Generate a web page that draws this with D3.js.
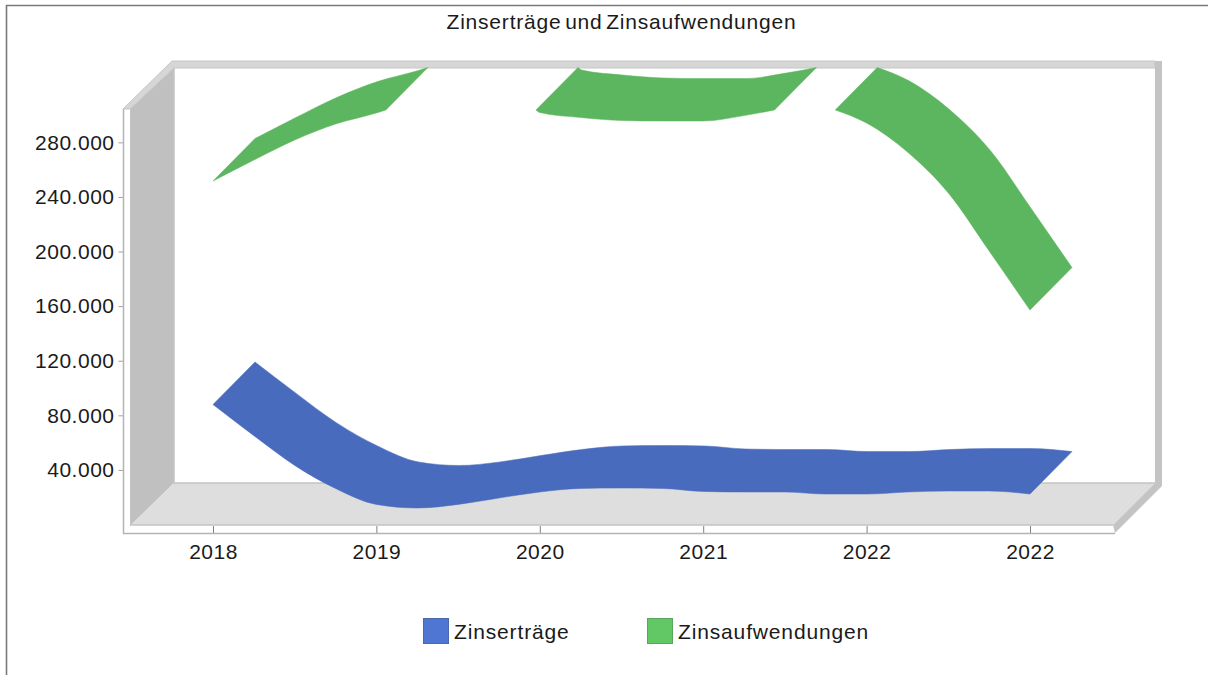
<!DOCTYPE html>
<html>
<head>
<meta charset="utf-8">
<script src="https://cdn.jsdelivr.net/npm/d3@7"></script>
<style>
    html, body { margin: 0; padding: 0; background: #fff; }
    svg { display: block; }
    text { font-family: "Liberation Sans", Arial, sans-serif; fill: #1a1a1a; }
</style>
</head>
<body>
<svg id="chart" width="1208" height="675"></svg>
<script>
const title = 'Zinserträge und Zinsaufwendungen';
const categories = ['2018', '2019', '2020', '2021', '2022', '2022'];
const yTicks = [40000, 80000, 120000, 160000, 200000, 240000, 280000];

// curve every quarter of a category step
const samplePositions = [
    0, 0.25, 0.5, 0.75, 1, 1.25, 1.5, 1.75, 2, 2.25, 2.5,
    2.75, 3, 3.25, 3.5, 3.75, 4, 4.25, 4.5, 4.75, 5
];
const zinsertraege = [
    87900, 65100, 43300, 26400, 14700, 12100, 14700, 19400, 23800, 26400, 26700,
    26400, 24200, 23800, 23800, 22300, 22300, 23800, 24500, 24500, 22300
];
const zinsaufwendungen = [
    251650, 267000, 281700, 293400, 301500, 311000, 318300, 322000, 301800, 298200, 296000,
    295600, 295600, 299600, 305100, 306600, 294100, 272900, 242900, 200400, 157100
];
const seriesNames = ['Zinserträge', 'Zinsaufwendungen'];
const seriesFill = ['#486bbd', '#5cb55f'];
const swatchFill = ['#4f76d2', '#62c866'];
const swatchStroke = ['#4a68ad', '#5aa55d'];

const svg = d3.select('#chart');
const yMax = 303700;
const depthX = 42;
const depthY = -42.5;

const x = d3.scaleLinear().domain([0, 5]).range([213, 1030]);
const y = d3.scaleLinear().domain([0, yMax]).range([524.5, 110]);

// outer window border
svg.append('path')
    .attr('d', 'M6.5,675V5.5H1208')
    .attr('fill', 'none')
    .attr('stroke', '#7a7a7a')
    .attr('stroke-width', 1.6);

svg.append('text')
    .attr('x', 621.5)
    .attr('y', 29)
    .attr('text-anchor', 'middle')
    .attr('font-size', 21)
    .attr('letter-spacing', 0.8)
    .attr('word-spacing', -3)
    .text(title);

// 3d box
const frame = svg.append('g');
const poly = (pts, fill, stroke) => frame.append('polygon')
    .attr('points', pts.join(' '))
    .attr('fill', fill)
    .attr('stroke', stroke || 'none')
    .attr('stroke-width', 1);

poly(['130,109', '174,68', '174,483', '131,525'], '#c0c0c0');
poly(['131,525', '174,483', '1155,483', '1113,525'], '#dedede');
poly(['123,109', '130,109', '174,68', '1155,68', '1155,61', '172,61'], '#d6d6d6', '#c6c6c6');
poly(['1155,61', '1162,61', '1162,486', '1115,533', '1113,525', '1155,483'], '#c4c4c4');
frame.append('path')
    .attr('d', 'M174,68V483H1155M131,525H1113')
    .attr('fill', 'none')
    .attr('stroke', '#c4c4c4')
    .attr('stroke-width', 1.5);
frame.append('path')
    .attr('d', 'M130.5,109V526')
    .attr('fill', 'none')
    .attr('stroke', '#c4c4c4')
    .attr('stroke-width', 1);

// ribbon pieces, cut where the curve leaves the top of the value axis
function visibleRuns(values) {
    const runs = [];
    let run = null;
    values.forEach((v, i) => {
        const p = samplePositions[i];
        if (i > 0) {
            const pv = values[i - 1];
            if ((pv > yMax) !== (v > yMax)) {
                const pp = samplePositions[i - 1];
                const cut = { p: pp + (p - pp) * (yMax - pv) / (v - pv), v: yMax };
                if (run) {
                    run.push(cut);
                    runs.push(run);
                    run = null;
                } else {
                    run = [cut];
                }
            }
        }
        if (v <= yMax) {
            run = run || [];
            run.push({ p, v });
        }
    });
    if (run) {
        runs.push(run);
    }
    return runs;
}

const ribbon = d3.area()
    .x0((d) => x(d.p))
    .y0((d) => y(d.v))
    .x1((d) => x(d.p) + depthX)
    .y1((d) => y(d.v) + depthY)
    .curve(d3.curveMonotoneX);

[zinsertraege, zinsaufwendungen].forEach((values, idx) => {
    svg.append('g')
        .selectAll('path')
        .data(visibleRuns(values))
        .enter()
        .append('path')
        .attr('d', ribbon)
        .attr('fill', seriesFill[idx])
        .attr('stroke', seriesFill[idx])
        .attr('stroke-width', 0.5);
});

// axes
const yAxis = d3.axisLeft(y)
    .tickValues(yTicks)
    .tickSize(5)
    .tickPadding(4)
    .tickFormat((d) => d3.format(',')(d).replace(/,/g, '.'));
const yAxisG = svg.append('g')
    .attr('transform', 'translate(123.5,0)')
    .call(yAxis);

const xAxis = d3.axisBottom(x)
    .tickValues(d3.range(categories.length))
    .tickSize(0)
    .tickPadding(11)
    .tickFormat((d) => categories[d]);
const xAxisG = svg.append('g')
    .attr('transform', 'translate(0,533)')
    .call(xAxis);

[yAxisG, xAxisG].forEach((g) => {
    g.select('.domain').remove();
    g.selectAll('.tick line').attr('stroke', '#a0a0a0');
    g.selectAll('.tick text')
        .attr('font-size', 21)
        .attr('letter-spacing', 0.5)
        .attr('fill', '#1a1a1a')
        .style('font-family', '"Liberation Sans", Arial, sans-serif');
});
xAxisG.selectAll('.tick').append('line')
    .attr('y1', -7)
    .attr('y2', 0)
    .attr('stroke', '#808080');

svg.append('path')
    .attr('d', 'M123.5,109V533.5H1115')
    .attr('fill', 'none')
    .attr('stroke', '#b4b4b4')
    .attr('stroke-width', 1.5);

// legend
const legendX = [423, 647];
const legend = svg.append('g')
    .selectAll('g')
    .data(seriesNames)
    .enter()
    .append('g')
    .attr('transform', (d, i) => `translate(${legendX[i]},618)`);
legend.append('rect')
    .attr('x', 0.5)
    .attr('y', 0.5)
    .attr('width', 25)
    .attr('height', 25)
    .attr('fill', (d, i) => swatchFill[i])
    .attr('stroke', (d, i) => swatchStroke[i]);
legend.append('text')
    .attr('x', 31)
    .attr('y', 21)
    .attr('font-size', 21)
    .attr('letter-spacing', 0.85)
    .text((d) => d);
</script>
</body>
</html>
